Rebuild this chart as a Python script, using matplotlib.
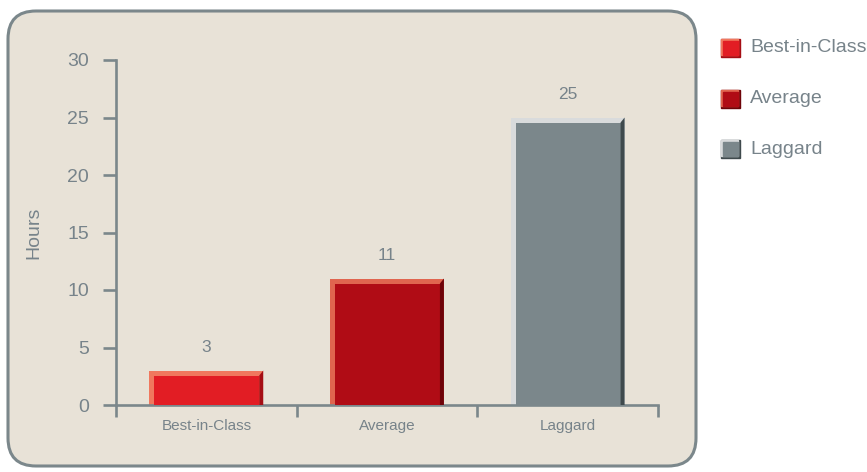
import matplotlib.pyplot as plt
from matplotlib.patches import FancyBboxPatch, Rectangle, Polygon
import numpy as np

plt.rcParams['font.family'] = ['Liberation Sans', 'DejaVu Sans']

# Data
categories = ['Best-in-Class', 'Average', 'Laggard']
hours = [3, 11, 25]
yticks = [0, 5, 10, 15, 20, 25, 30]

# colours: main fill, highlight (top/left), shadow (right)
fills = ['#E21D24', '#B00C15', '#7B878B']
lights = ['#F0785E', '#E0654F', '#D9DBDC']
shades = ['#A50D14', '#6E0309', '#3F4A4D']
grey = '#77838A'

W, H = 867, 472
fig = plt.figure(figsize=(W / 100, H / 100), dpi=100)
fig.patch.set_facecolor('white')

# background panel (pixel coordinates)
bg = fig.add_axes([0, 0, 1, 1], zorder=0)
bg.set_xlim(0, W)
bg.set_ylim(H, 0)
bg.axis('off')
bg.add_patch(FancyBboxPatch((8, 11), 688, 455,
                            boxstyle='round,pad=0,rounding_size=28',
                            facecolor='#E8E2D7', edgecolor='#7B878B', linewidth=2.2))

# main axes
x0, x1, y0, y1 = 116, 658, 405, 60
ax = fig.add_axes([x0 / W, 1 - y0 / H, (x1 - x0) / W, (y0 - y1) / H], zorder=1)
ax.set_facecolor('none')
ax.set_xlim(0, 3)
ax.set_ylim(0, 30)
for s in ['top', 'right']:
    ax.spines[s].set_visible(False)
for s in ['left', 'bottom']:
    ax.spines[s].set_color('#7B878B')
    ax.spines[s].set_linewidth(1.9)

# pixel to data scale
px = 3 / (x1 - x0)
py = 30 / (y0 - y1)

xs = np.arange(len(categories)) + 0.5
bw = 0.63
for x, v, f, l, s in zip(xs, hours, fills, lights, shades):
    left = x - bw / 2
    ax.bar(x, v, bw, color=l, zorder=2)
    ax.bar(left + 5 * px + (bw - 9 * px) / 2, v - 5 * py, bw - 9 * px,
           color=f, zorder=3)
    r = left + bw
    ax.add_patch(Polygon([(r - 4 * px, 0), (r, 0), (r, v), (r - 4 * px, v - 5 * py)],
                         closed=True, color=s, zorder=4, linewidth=0))
    ax.text(x, v + 2.0, str(v), ha='center', va='center', color=grey, fontsize=12.5)

ax.set_yticks(yticks)
ax.set_yticklabels([str(t) for t in yticks], fontsize=14, color=grey)
ax.tick_params(axis='y', length=9.4, width=1.9, color='#7B878B', pad=10)
ax.set_xticks([0, 1, 2, 3])
ax.set_xticklabels([])
ax.tick_params(axis='x', length=8.6, width=1.9, color='#7B878B')
ax.set_xticks(xs, minor=True)
ax.set_xticklabels(categories, minor=True, fontsize=11, color=grey)
ax.tick_params(axis='x', which='minor', length=0, pad=10)
ax.set_ylabel('Hours', fontsize=14, color=grey, labelpad=18)

# legend
for i, (c, f, l, s) in enumerate(zip(categories, fills, lights, shades)):
    yc = 48 + i * 50.5
    bg.add_patch(Rectangle((721, yc - 9), 19, 18, color=s, zorder=2))
    bg.add_patch(Rectangle((721, yc - 9), 17, 16, color=l, zorder=3))
    bg.add_patch(Rectangle((723, yc - 7), 15, 14, color=f, zorder=4))
    bg.text(750, yc, c, ha='left', va='center', fontsize=14, color=grey)

fig.savefig('out.png', dpi=100)
